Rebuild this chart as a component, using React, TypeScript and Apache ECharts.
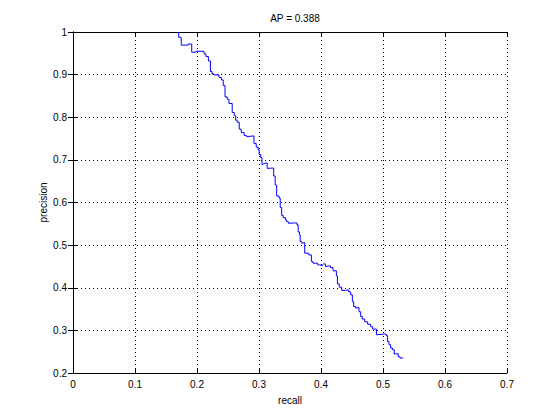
import React, { useEffect, useRef } from "react";
import * as echarts from "echarts";

const TITLE = "AP = 0.388";
const X_NAME = "recall";
const Y_NAME = "precision";

const recall = [
  0.1705, 0.1705, 0.1745, 0.1745, 0.1858, 0.1858, 0.1915, 0.1915, 0.1979, 0.1979,
  0.2113, 0.2113, 0.2145, 0.2145, 0.2184, 0.2184, 0.2216, 0.2216, 0.2242, 0.2242,
  0.2274, 0.2274, 0.2355, 0.2355, 0.2394, 0.2394, 0.2423, 0.2423, 0.2452, 0.2452,
  0.2487, 0.2487, 0.2516, 0.2516, 0.2568, 0.2568, 0.26, 0.26, 0.2624, 0.2624,
  0.2648, 0.2648, 0.2681, 0.2681, 0.2713, 0.2713, 0.2761, 0.2761, 0.2802, 0.2802,
  0.2919, 0.2919, 0.2955, 0.2955, 0.2987, 0.2987, 0.3003, 0.3003, 0.3027, 0.3027,
  0.3048, 0.3048, 0.3108, 0.3132, 0.3132, 0.3237, 0.3237, 0.3261, 0.3261, 0.3285,
  0.3285, 0.3323, 0.3323, 0.3342, 0.3342, 0.3366, 0.3366, 0.339, 0.339, 0.3426,
  0.3426, 0.3447, 0.3447, 0.3474, 0.3474, 0.3576, 0.3613, 0.3613, 0.3632, 0.3632,
  0.3652, 0.3652, 0.3665, 0.3665, 0.3689, 0.3689, 0.3737, 0.3737, 0.3802, 0.3802,
  0.3845, 0.3845, 0.3871, 0.3871, 0.3947, 0.3947, 0.3979, 0.3979, 0.4016, 0.4044,
  0.4071, 0.4071, 0.4124, 0.4152, 0.4152, 0.4194, 0.4194, 0.4248, 0.4248, 0.4265,
  0.4265, 0.4294, 0.4294, 0.4334, 0.4334, 0.4398, 0.4447, 0.4447, 0.4479, 0.4479,
  0.4506, 0.4506, 0.4527, 0.4527, 0.456, 0.456, 0.4613, 0.4613, 0.464, 0.464,
  0.4665, 0.4665, 0.4705, 0.4705, 0.4753, 0.4753, 0.4802, 0.4802, 0.4834, 0.4834,
  0.4894, 0.4894, 0.5011, 0.5052, 0.5052, 0.5071, 0.5071, 0.5097, 0.5097, 0.5124,
  0.5124, 0.5152, 0.5152, 0.5181, 0.5181, 0.5245, 0.5245, 0.5274, 0.5274, 0.5326,
];

const precision = [
  1.0, 0.9876, 0.9876, 0.9693, 0.9693, 0.9717, 0.9717, 0.9525, 0.9525, 0.9548,
  0.9548, 0.9485, 0.9485, 0.9424, 0.9424, 0.9321, 0.9321, 0.9073, 0.9073, 0.9016,
  0.9016, 0.8993, 0.8993, 0.8932, 0.8932, 0.8876, 0.8876, 0.8745, 0.8745, 0.8478,
  0.8478, 0.8424, 0.8424, 0.8323, 0.8323, 0.8112, 0.8112, 0.8037, 0.8037, 0.7932,
  0.7932, 0.7885, 0.7885, 0.7721, 0.7721, 0.7639, 0.7639, 0.7569, 0.7569, 0.7546,
  0.7562, 0.7386, 0.7386, 0.73, 0.73, 0.723, 0.723, 0.7129, 0.7129, 0.7054,
  0.7054, 0.689, 0.6925, 0.6925, 0.6801, 0.6808, 0.6621, 0.6621, 0.641, 0.641,
  0.6152, 0.6152, 0.6105, 0.6105, 0.5883, 0.5883, 0.5696, 0.5696, 0.5644, 0.5644,
  0.559, 0.559, 0.555, 0.555, 0.5513, 0.552, 0.552, 0.5473, 0.5473, 0.5309,
  0.5309, 0.5239, 0.5239, 0.5082, 0.5082, 0.5044, 0.5059, 0.481, 0.481, 0.477,
  0.477, 0.4614, 0.4614, 0.4576, 0.4576, 0.4536, 0.4536, 0.452, 0.452, 0.456,
  0.456, 0.4496, 0.4513, 0.4513, 0.4473, 0.4473, 0.4396, 0.4396, 0.4279, 0.4279,
  0.4091, 0.4091, 0.4014, 0.4014, 0.3939, 0.3939, 0.3951, 0.3904, 0.3904, 0.3834,
  0.3834, 0.3677, 0.3677, 0.356, 0.356, 0.3522, 0.3534, 0.3436, 0.3436, 0.3326,
  0.3326, 0.3265, 0.3265, 0.3201, 0.3201, 0.3143, 0.3143, 0.3084, 0.3084, 0.303,
  0.303, 0.2897, 0.2913, 0.2913, 0.2881, 0.2881, 0.274, 0.274, 0.2663, 0.2663,
  0.2585, 0.2585, 0.2546, 0.2546, 0.2445, 0.2452, 0.2382, 0.2382, 0.2351, 0.2351,
];

const X_MIN = 0;
const X_MAX = 0.7;
const Y_MIN = 0.2;
const Y_MAX = 1;
const STEP = 0.1;

const FONT = "Liberation Sans, Arial, sans-serif";

export default function App() {
  const ref = useRef<HTMLDivElement>(null);

  useEffect(() => {
    if (!ref.current) return;
    const chart = echarts.init(ref.current, undefined, { renderer: "svg" });
    const fmt = (v: number) => String(Math.round(v * 10) / 10);
    const lineStyle = { color: "#000", width: 1 };
    const tick = { show: true, inside: true, length: 5, lineStyle };
    const split = { show: true, lineStyle: { color: "#000", width: 1, type: [1, 3] as any } };
    const label = { color: "#000", fontSize: 10, fontFamily: FONT };

    chart.setOption({
      animation: false,
      backgroundColor: "#fff",
      title: {
        text: TITLE,
        left: 290,
        top: 8,
        textAlign: "center",
        textStyle: { color: "#000", fontSize: 10, fontWeight: "normal", fontFamily: FONT },
      },
      grid: { left: 73, right: 53, top: 32, bottom: 47, show: false },
      xAxis: [
        {
          type: "value",
          position: "bottom",
          min: X_MIN,
          max: X_MAX,
          interval: STEP,
          axisLine: { show: true, lineStyle },
          axisTick: tick,
          splitLine: split,
          axisLabel: { ...label, margin: 6, formatter: fmt },
          name: X_NAME,
          nameLocation: "middle",
          nameGap: 22,
          nameMoveOverlap: false,
          nameTextStyle: label,
        },
        {
          type: "value",
          position: "top",
          min: X_MIN,
          max: X_MAX,
          interval: STEP,
          axisLine: { show: true, lineStyle },
          axisTick: tick,
          splitLine: { show: false },
          axisLabel: { show: false },
        },
      ],
      yAxis: [
        {
          type: "value",
          position: "left",
          min: Y_MIN,
          max: Y_MAX,
          interval: STEP,
          axisLine: { show: true, lineStyle },
          axisTick: tick,
          splitLine: split,
          axisLabel: { ...label, margin: 6, formatter: fmt },
          name: Y_NAME,
          nameLocation: "middle",
          nameGap: 25,
          nameRotate: 90,
          nameMoveOverlap: false,
          nameTextStyle: label,
        },
        {
          type: "value",
          position: "right",
          min: Y_MIN,
          max: Y_MAX,
          interval: STEP,
          axisLine: { show: true, lineStyle },
          axisTick: tick,
          splitLine: { show: false },
          axisLabel: { show: false },
        },
      ],
      series: [
        {
          type: "line",
          xAxisIndex: 0,
          yAxisIndex: 0,
          data: recall.map((r, i) => [r, precision[i]]),
          showSymbol: false,
          symbol: "none",
          lineStyle: { color: "#0000ff", width: 1 },
          itemStyle: { color: "#0000ff" },
        },
      ],
    });
    return () => chart.dispose();
  }, []);

  return (
    <div
      ref={ref}
      style={{ position: "fixed", left: 0, top: 0, width: 560, height: 420, background: "#fff" }}
    />
  );
}
